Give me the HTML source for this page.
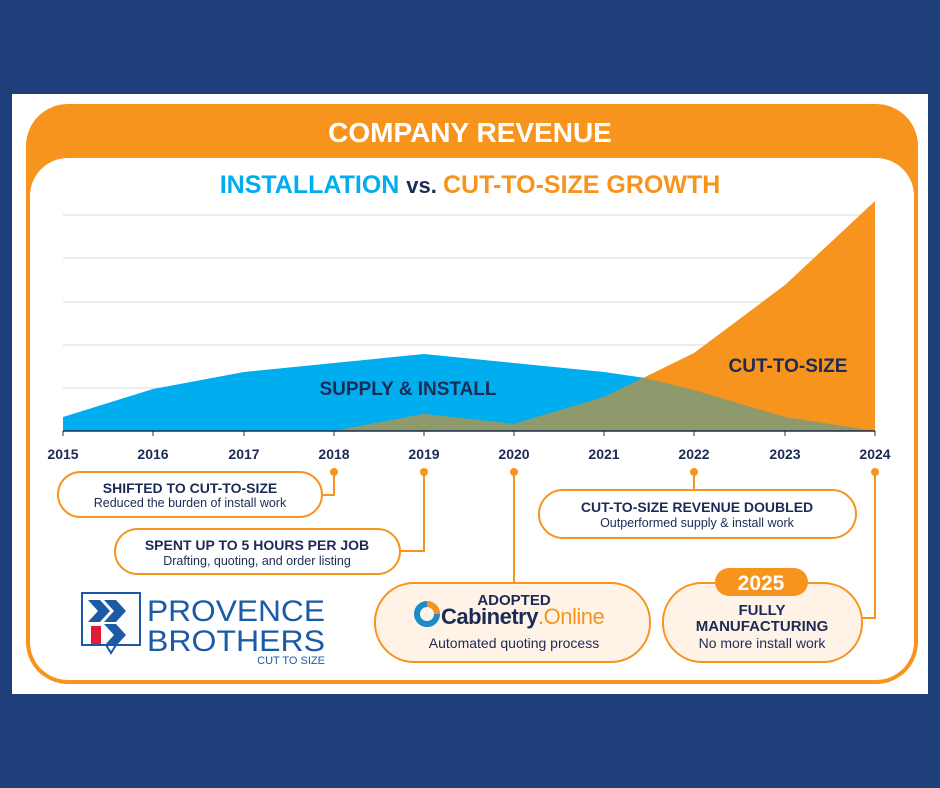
<!DOCTYPE html>
<html><head><meta charset="utf-8"><style>
body{margin:0;width:940px;height:788px;background:#1f3f7a;overflow:hidden;font-family:"Liberation Sans",sans-serif}
</style></head><body>
<svg width="940" height="788" xmlns="http://www.w3.org/2000/svg" style="position:absolute;left:0;top:0">
<defs>
<clipPath id="oc"><polygon points="334,431 424,414 514,424 604,397 694,353 785,285 875,201 875,431"/></clipPath>
</defs>
<rect x="12" y="94" width="916" height="600" fill="#fff"/>
<rect x="26" y="104" width="892" height="580" rx="42" fill="#f7941d"/>
<rect x="30" y="158" width="884" height="522" rx="38" fill="#fff"/>
<text x="470" y="142" text-anchor="middle" font-size="28" font-weight="bold" fill="#fff">COMPANY REVENUE</text>
<text x="470" y="193" text-anchor="middle" font-size="25" font-weight="bold"><tspan fill="#00aeef">INSTALLATION </tspan><tspan fill="#1c2b55" font-size="22">vs. </tspan><tspan fill="#f7941d">CUT-TO-SIZE GROWTH</tspan></text>
<g stroke="#d8d8d8" stroke-width="1">
<line x1="63" y1="215" x2="875" y2="215"/><line x1="63" y1="258" x2="875" y2="258"/><line x1="63" y1="302" x2="875" y2="302"/><line x1="63" y1="345" x2="875" y2="345"/><line x1="63" y1="388" x2="875" y2="388"/>
</g>
<polygon points="63,417 153,389 244,372 334,363 424,354 514,363 604,372 645,378 694,390 785,417 875,431 63,431" fill="#00aeef"/>
<polygon points="334,431 424,414 514,424 604,397 694,353 785,285 875,201 875,431" fill="#f7941d"/>
<polygon points="63,417 153,389 244,372 334,363 424,354 514,363 604,372 645,378 694,390 785,417 875,431 63,431" fill="#8f9a6c" clip-path="url(#oc)"/>
<line x1="63" y1="431" x2="875" y2="431" stroke="#1c2b55" stroke-width="1.5"/>
<g stroke="#1c2b55" stroke-width="1"><line x1="63" y1="431" x2="63" y2="436"/><line x1="153" y1="431" x2="153" y2="436"/><line x1="244" y1="431" x2="244" y2="436"/><line x1="334" y1="431" x2="334" y2="436"/><line x1="424" y1="431" x2="424" y2="436"/><line x1="514" y1="431" x2="514" y2="436"/><line x1="604" y1="431" x2="604" y2="436"/><line x1="694" y1="431" x2="694" y2="436"/><line x1="785" y1="431" x2="785" y2="436"/><line x1="875" y1="431" x2="875" y2="436"/></g>
<text x="408" y="395" text-anchor="middle" font-size="19" font-weight="bold" fill="#1c2b55">SUPPLY &amp; INSTALL</text>
<text x="788" y="372" text-anchor="middle" font-size="19" font-weight="bold" fill="#1c2b55">CUT-TO-SIZE</text>
<g font-size="14" font-weight="bold" fill="#1c2b55" text-anchor="middle">
<text x="63" y="459">2015</text><text x="153" y="459">2016</text><text x="244" y="459">2017</text><text x="334" y="459">2018</text><text x="424" y="459">2019</text><text x="514" y="459">2020</text><text x="604" y="459">2021</text><text x="694" y="459">2022</text><text x="785" y="459">2023</text><text x="875" y="459">2024</text>
</g>
<g stroke="#f7941d" stroke-width="2" fill="none">
<polyline points="334,472 334,495 322,495"/><polyline points="424,472 424,551 400,551"/><line x1="514" y1="472" x2="514" y2="583"/><line x1="694" y1="472" x2="694" y2="490"/><polyline points="875,472 875,618 862,618"/>
</g>
<g fill="#f7941d"><circle cx="334" cy="472" r="4"/><circle cx="424" cy="472" r="4"/><circle cx="514" cy="472" r="4"/><circle cx="694" cy="472" r="4"/><circle cx="875" cy="472" r="4"/></g>
<g stroke="#f7941d" stroke-width="2">
<rect x="58" y="472" width="264" height="45" rx="22.5" fill="#fff"/>
<rect x="115" y="529" width="285" height="45" rx="22.5" fill="#fff"/>
<rect x="539" y="490" width="317" height="48" rx="24" fill="#fff"/>
<rect x="375" y="583" width="275" height="79" rx="39" fill="#fef3e6"/>
<rect x="663" y="583" width="199" height="79" rx="39" fill="#fef3e6"/>
</g>
<rect x="715" y="568" width="93" height="28" rx="14" fill="#f7941d"/>
<text x="761" y="590" text-anchor="middle" font-size="21" font-weight="bold" fill="#fff">2025</text>
<g fill="#1c2b55" text-anchor="middle">
<text x="190" y="493" font-size="14" font-weight="bold">SHIFTED TO CUT-TO-SIZE</text>
<text x="190" y="507" font-size="12.5">Reduced the burden of install work</text>
<text x="257" y="550" font-size="14" font-weight="bold">SPENT UP TO 5 HOURS PER JOB</text>
<text x="257" y="565" font-size="12.5">Drafting, quoting, and order listing</text>
<text x="697" y="512" font-size="14" font-weight="bold">CUT-TO-SIZE REVENUE DOUBLED</text>
<text x="697" y="527" font-size="12.5">Outperformed supply &amp; install work</text>
<text x="514" y="605" font-size="15" font-weight="bold">ADOPTED</text>
<text x="514" y="648" font-size="14">Automated quoting process</text>
<text x="762" y="615" font-size="15" font-weight="bold">FULLY</text>
<text x="762" y="631" font-size="15" font-weight="bold">MANUFACTURING</text>
<text x="762" y="648" font-size="14">No more install work</text>
</g>
<circle cx="427" cy="614" r="10" fill="none" stroke="#1a8ccc" stroke-width="6"/>
<path d="M427 604 A10 10 0 0 1 437 614" fill="none" stroke="#f7941d" stroke-width="6"/>
<text x="441" y="624" font-size="22" fill="#1c2b55" font-weight="bold" letter-spacing="-0.5">Cabinetry<tspan fill="#f7941d" font-weight="normal">.Online</tspan></text>
<path d="M82 593 H140 V645 H116 L111 653 L106 645 H82 Z" fill="#fff" stroke="#1a5aa6" stroke-width="2"/>
<polygon points="88,600 100,600 110,611 100,622 88,622 98,611" fill="#1a5aa6"/>
<polygon points="104,600 116,600 126,611 116,622 104,622 114,611" fill="#1a5aa6"/>
<polygon points="104,624 116,624 126,635 116,646 104,646 114,635" fill="#1a5aa6"/>
<rect x="91" y="626" width="10" height="18" fill="#e31b37"/>
<text x="147" y="621" font-size="30" fill="#1a5aa6" textLength="178" lengthAdjust="spacingAndGlyphs">PROVENCE</text>
<text x="147" y="651" font-size="30" fill="#1a5aa6" textLength="178" lengthAdjust="spacingAndGlyphs">BROTHERS</text>
<text x="325" y="664" font-size="11" fill="#1a5aa6" text-anchor="end">CUT TO SIZE</text>
</svg>
</body></html>
